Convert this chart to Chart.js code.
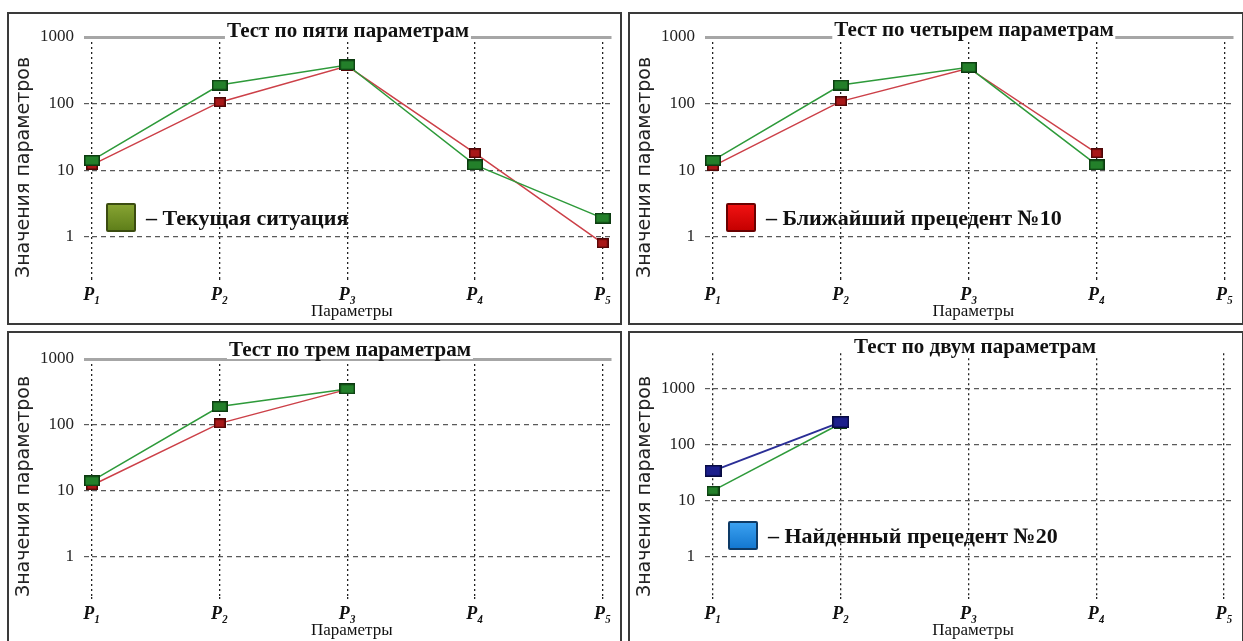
<!DOCTYPE html>
<html>
<head>
<meta charset="utf-8">
<script src="https://cdn.jsdelivr.net/npm/chart.js@4.4.1/dist/chart.umd.min.js"></script>
<style>
  html, body { margin: 0; padding: 0; background: #fff; width: 1243px; height: 641px; overflow: hidden; }
  .panel { position: absolute; box-sizing: border-box; border: 2px solid #3a3a3a; background: #fff; }
  .panel canvas { position: absolute; left: 0; top: 0; }
  .ttl { position: absolute; transform: translate(-50%, -50%); background: #fff; color: #111;
         font: bold 21px "Liberation Serif", serif; white-space: nowrap; line-height: 20px; padding: 0 2px; }
  .leg { position: absolute; display: flex; align-items: center; color: #111;
         font: bold 22px "Liberation Serif", serif; white-space: nowrap; }
  .sw { display: inline-block; width: 30px; height: 29px; box-sizing: border-box; margin-right: 10px; border-radius: 2px; }
  .sw.green { background: linear-gradient(#86a332, #5f7f1a); border: 2px solid #3b4c10; }
  .sw.red   { background: linear-gradient(#f01212, #c50000); border: 2px solid #6a0000; }
  .sw.blue  { background: linear-gradient(#3aa0f0, #1478d0); border: 2px solid #0d3a66; }
</style>
</head>
<body>

<div class="panel" style="left:7px;top:12px;width:615px;height:313px;"><canvas id="c5" width="611" height="309"></canvas></div>
<div class="panel" style="left:628px;top:12px;width:616px;height:313px;"><canvas id="c4" width="612" height="309"></canvas></div>
<div class="panel" style="left:7px;top:331px;width:615px;height:313px;"><canvas id="c3" width="611" height="309"></canvas></div>
<div class="panel" style="left:628px;top:331px;width:616px;height:313px;"><canvas id="c2" width="612" height="309"></canvas></div>

<div class="ttl" style="left:348px;top:30px;">Тест по пяти параметрам</div>
<div class="ttl" style="left:974px;top:29px;">Тест по четырем параметрам</div>
<div class="ttl" style="left:350px;top:349px;">Тест по трем параметрам</div>
<div class="ttl" style="left:975px;top:346px;">Тест по двум параметрам</div>

<div class="leg" style="left:106px;top:203px;"><span class="sw green"></span>– Текущая ситуация</div>
<div class="leg" style="left:726px;top:203px;"><span class="sw red"></span>– Ближайший прецедент №10</div>
<div class="leg" style="left:728px;top:521px;"><span class="sw blue"></span>– Найденный прецедент №20</div>

<script>
// Parameter names on the x axis and decades on the y axis
const categories = ['P₁', 'P₂', 'P₃', 'P₄', 'P₅'];
const yTicks = [1, 10, 100, 1000];

// Тест по пяти параметрам
const current5 = [14, 190, 380, 12, 1.9];
const nearest5 = [12, 105, 365, 18, 0.8];

// Тест по четырем параметрам
const current4 = [14, 190, 350, 12];
const nearest4 = [11.5, 108, 340, 18];

// Тест по трем параметрам
const current3 = [14, 189, 350];
const nearest3 = [12, 105, 345];

// Тест по двум параметрам
const current2 = [15, 240];
const found2 = [34, 255];

const labelCurrent = 'Текущая ситуация';
const labelNearest = 'Ближайший прецедент №10';
const labelFound = 'Найденный прецедент №20';

// Rectangular marker sprites
function marker(w, h, fill, stroke) {
  const c = document.createElement('canvas');
  c.width = w; c.height = h;
  const g = c.getContext('2d');
  g.fillStyle = stroke;
  g.fillRect(0, 0, w, h);
  g.fillStyle = fill;
  g.fillRect(1.5, 1.5, w - 3, h - 3);
  return c;
}
const mGreen = marker(16, 11, '#23802a', '#0c3a10');
const mGreenSmall = marker(13, 10, '#23802a', '#0c3a10');
const mRed = marker(12, 10, '#a81818', '#4d0606');
const mBlue = marker(17, 12, '#1c1f8c', '#070a40');

const toPoints = arr => arr.map((v, i) => ({ x: i, y: v }));

function series(label, values, color, sprite, width) {
  return {
    label: label,
    data: toPoints(values),
    borderColor: color,
    backgroundColor: color,
    borderWidth: width || 1.5,
    tension: 0,
    pointStyle: sprite,
    pointRadius: 7,
    clip: 10
  };
}

function draw(id, datasets, opt) {
  const solidTop = opt.solidTop;
  const isTop = c => solidTop && c.tick && c.tick.value === 1000;
  new Chart(document.getElementById(id), {
    type: 'line',
    data: { datasets: datasets },
    options: {
      responsive: false,
      animation: false,
      devicePixelRatio: 1,
      layout: { padding: { top: opt.top, right: 3, left: 0, bottom: 0 } },
      plugins: { legend: { display: false }, tooltip: { enabled: false }, title: { display: false } },
      scales: {
        x: {
          type: 'linear',
          min: 0,
          max: 4.07,
          afterBuildTicks: s => { s.ticks = categories.map((_, i) => ({ value: i })); },
          afterFit: s => { s.height = 45; },
          ticks: {
            callback: v => categories[v],
            font: { family: '"Liberation Serif", serif', size: 18, style: 'italic', weight: 'bold' },
            color: '#111',
            padding: 2,
            maxRotation: 0,
            autoSkip: false
          },
          grid: {
            color: '#222',
            lineWidth: 1.3,
            tickLength: 5,
            tickColor: '#222',
            tickWidth: 1.3,
            tickBorderDash: [2, 3]
          },
          border: { display: false, dash: [2, 3] },
          title: {
            display: true,
            text: 'Параметры',
            font: { family: '"Liberation Serif", serif', size: 17 },
            color: '#111',
            padding: { top: 0, bottom: 1 }
          }
        },
        y: {
          type: 'logarithmic',
          min: opt.yMin,
          max: opt.yMax,
          afterBuildTicks: s => { s.ticks = yTicks.map(v => ({ value: v })); },
          afterFit: s => { s.width = 83; },
          ticks: {
            callback: v => String(v),
            font: { family: '"Liberation Serif", serif', size: 17 },
            color: '#222',
            padding: 10
          },
          grid: {
            color: c => isTop(c) ? '#a6a6a6' : '#5a5a5a',
            lineWidth: c => isTop(c) ? 3 : 1.2,
            tickLength: 8,
            tickColor: c => isTop(c) ? '#a6a6a6' : '#5a5a5a',
            tickWidth: c => isTop(c) ? 3 : 1.2,
            tickBorderDash: c => isTop(c) ? [] : [5, 4]
          },
          border: { display: false, dash: c => isTop(c) ? [] : [5, 4] },
          title: {
            display: true,
            text: 'Значения параметров',
            align: 'start',
            font: { family: '"DejaVu Sans", sans-serif', size: 19 },
            color: '#222',
            padding: { top: 4, bottom: 0 }
          }
        }
      }
    }
  });
}

draw('c5', [
  series(labelCurrent, current5, '#2e9a3a', mGreen),
  series(labelNearest, nearest5, '#cc4048', mRed)
], { top: 23, yMin: 0.24, yMax: 1000, solidTop: true });

draw('c4', [
  series(labelCurrent, current4, '#2e9a3a', mGreen),
  series(labelNearest, nearest4, '#cc4048', mRed)
], { top: 23, yMin: 0.24, yMax: 1000, solidTop: true });

draw('c3', [
  series(labelCurrent, current3, '#2e9a3a', mGreen),
  series(labelNearest, nearest3, '#cc4048', mRed)
], { top: 26, yMin: 0.24, yMax: 1000, solidTop: true });

draw('c2', [
  series(labelFound, found2, '#2a2e96', mBlue, 2),
  series(labelCurrent, current2, '#2e9a3a', mGreenSmall)
], { top: 20, yMin: 0.185, yMax: 4390, solidTop: false });
</script>
</body>
</html>
